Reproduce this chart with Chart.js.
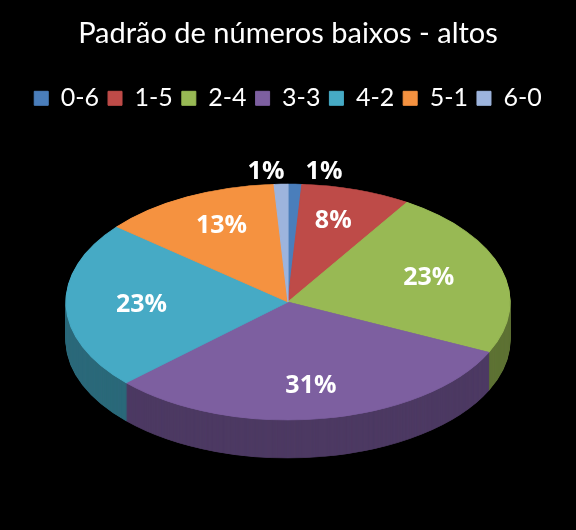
<!DOCTYPE html>
<html><head><meta charset="utf-8">
<script src="https://cdn.jsdelivr.net/npm/chart.js@4"></script>
<style>html,body{margin:0;background:#000}#w{width:576px;height:530px}</style>
</head><body><div id="w"><canvas id="c"></canvas></div>
<script>
const categories=['0-6','1-5','2-4','3-3','4-2','5-1','6-0'];
const values=[1,8,23,31,23,13,1];
const colors=['#4A7EBB','#BE4B48','#98B954','#7D5FA0','#46AAC5','#F59240','#9DB4DD'];
const CX=288,CY=302,RX=222,RY=118,DEPTH=38;
function dark(h,f){const n=parseInt(h.slice(1),16);return `rgb(${((n>>16)&255)*f|0},${((n>>8)&255)*f|0},${(n&255)*f|0})`;}
const pie3d={id:'pie3d',
beforeDatasetsDraw(chart){
  const ctx=chart.ctx,arcs=chart.getDatasetMeta(0).data;if(!arcs.length)return;
  const a=arcs[0],r=a.outerRadius,sx=RX/r,sy=RY/r;
  ctx.save();
  ctx.translate(CX,CY);ctx.scale(sx,sy);ctx.translate(-a.x,-a.y);
  for(let d=DEPTH;d>0;d--){
    ctx.save();ctx.translate(0,d/sy);
    arcs.forEach((el,i)=>{const o=el.options,bg=o.backgroundColor,bc=o.borderColor;
      o.backgroundColor=dark(colors[i],0.62);o.borderColor=dark(colors[i],0.62);el.draw(ctx);o.backgroundColor=bg;o.borderColor=bc;});
    ctx.restore();
  }
},
afterDatasetsDraw(chart){
  const ctx=chart.ctx;ctx.restore();
  const arcs=chart.getDatasetMeta(0).data;
  ctx.save();ctx.fillStyle='#fff';ctx.font='bold 25px "Open Sans"';ctx.textAlign='center';ctx.textBaseline='middle';
  arcs.forEach((el,i)=>{const m=(el.startAngle+el.endAngle)/2;let x,y;
    if(values[i]<3){x=CX+(Math.cos(m)>0?36:-22);y=CY-RY*1.1;}
    else{x=CX+RX*0.66*Math.cos(m);y=CY+RY*0.72*Math.sin(m);}
    ctx.fillText(values[i]+'%',x,y);});
  ctx.restore();
}};
new Chart(document.getElementById('c'),{type:'pie',
data:{labels:categories,datasets:[{data:values,backgroundColor:colors,borderColor:colors,borderWidth:1}]},
options:{responsive:true,maintainAspectRatio:false,animation:false,
 layout:{padding:{top:16,bottom:20}},
 plugins:{tooltip:{enabled:false},
  title:{display:true,text:'Padrão de números baixos - altos',color:'#fff',font:{family:'Lato',size:29,weight:'normal'},padding:{bottom:26}},
  legend:{labels:{color:'#fff',boxWidth:14,boxHeight:14,padding:9,font:{family:'Lato',size:25}}}}},
plugins:[pie3d]});
</script></body></html>
